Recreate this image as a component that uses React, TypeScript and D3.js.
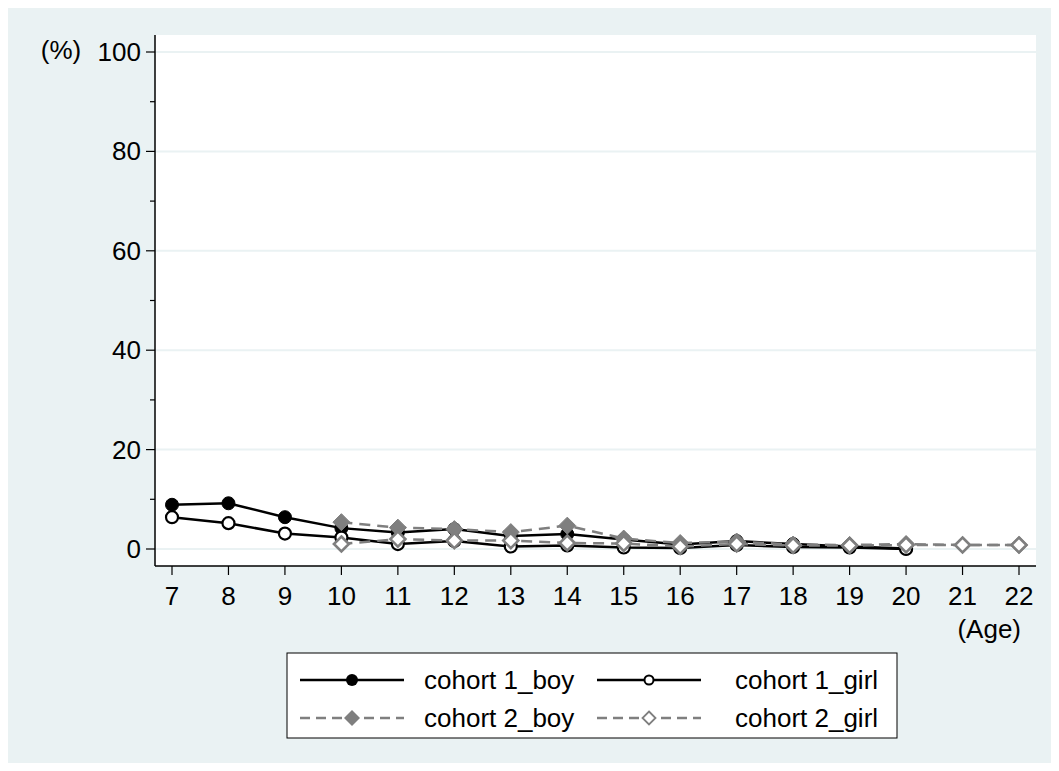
import React from "react";
import * as d3 from "d3";

const ages1 = [7, 8, 9, 10, 11, 12, 13, 14, 15, 16, 17, 18, 19, 20];
const cohort1Boy = [8.9, 9.2, 6.4, 4.2, 3.3, 4.0, 2.6, 3.0, 1.9, 0.9, 1.6, 1.0, 0.5, 0.1];
const cohort1Girl = [6.4, 5.2, 3.1, 2.3, 1.0, 1.6, 0.5, 0.7, 0.3, 0.2, 0.8, 0.4, 0.3, 0.0];
const ages2 = [10, 11, 12, 13, 14, 15, 16, 17, 18, 19, 20, 21, 22];
const cohort2Boy = [5.4, 4.3, 4.0, 3.4, 4.7, 2.1, 1.2, 1.5, 0.9, 0.8, 1.0, 0.8, 0.8];
const cohort2Girl = [1.0, 2.0, 1.7, 1.7, 1.2, 1.1, 0.5, 1.0, 0.7, 0.7, 0.8, 0.8, 0.8];
const xTicks = [7, 8, 9, 10, 11, 12, 13, 14, 15, 16, 17, 18, 19, 20, 21, 22];
const yTicks = [0, 20, 40, 60, 80, 100];
const yMinorTicks = [10, 30, 50, 70, 90];
const seriesNames = ["cohort 1_boy", "cohort 1_girl", "cohort 2_boy", "cohort 2_girl"];

const FONT = "'Liberation Sans', Arial, sans-serif";
const BG = "#eaf2f3";
const GRAY = "#7f7f7f";
const FS = 26;

type Pt = [number, number];

function Marker({ kind, x, y }: { kind: number; x: number; y: number }) {
  if (kind === 0) return <circle cx={x} cy={y} r={6.5} fill="#000" stroke="#000" strokeWidth={1} />;
  if (kind === 1) return <circle cx={x} cy={y} r={6} fill="#fff" stroke="#000" strokeWidth={2.2} />;
  const s = 8.5;
  const d = `M${x},${y - s}L${x + s},${y}L${x},${y + s}L${x - s},${y}Z`;
  if (kind === 2) return <path d={d} fill={GRAY} stroke={GRAY} strokeWidth={1} />;
  const s2 = 7.5;
  const d2 = `M${x},${y - s2}L${x + s2},${y}L${x},${y + s2}L${x - s2},${y}Z`;
  return <path d={d2} fill="#fff" stroke={GRAY} strokeWidth={2.6} />;
}

export default function App() {
  const left = 155, right = 1036, top = 35, bottom = 566;
  const x = d3.scaleLinear().domain([7, 22]).range([172, 1019]);
  const y = d3.scaleLinear().domain([0, 100]).range([549, 52]);
  const line = d3.line<Pt>().x((d) => x(d[0])).y((d) => y(d[1]));

  const series = [
    { pts: ages1.map((a, i) => [a, cohort1Boy[i]] as Pt), color: "#000", dash: undefined, kind: 0 },
    { pts: ages1.map((a, i) => [a, cohort1Girl[i]] as Pt), color: "#000", dash: undefined, kind: 1 },
    { pts: ages2.map((a, i) => [a, cohort2Boy[i]] as Pt), color: GRAY, dash: "11 7", kind: 2 },
    { pts: ages2.map((a, i) => [a, cohort2Girl[i]] as Pt), color: GRAY, dash: "11 7", kind: 3 },
  ];

  const legendPos = [
    { lx: 300, tx: 424, y: 680 },
    { lx: 597, tx: 735, y: 680 },
    { lx: 300, tx: 424, y: 718 },
    { lx: 597, tx: 735, y: 718 },
  ];

  return (
    <svg width={1059} height={771} style={{ position: "absolute", left: 0, top: 0 }} fontFamily={FONT}>
      <rect x={8} y={8} width={1043} height={755} fill={BG} />
      <rect x={left} y={top} width={right - left} height={bottom - top} fill="#fff" />
      {yTicks.map((t) => (
        <line key={"g" + t} x1={left} x2={right} y1={y(t)} y2={y(t)} stroke={BG} strokeWidth={2} />
      ))}
      <line x1={left} x2={left} y1={top} y2={bottom} stroke="#000" strokeWidth={1.5} />
      <line x1={left} x2={right} y1={bottom} y2={bottom} stroke="#000" strokeWidth={1.5} />
      {yTicks.map((t) => (
        <g key={"y" + t}>
          <line x1={left - 9} x2={left} y1={y(t)} y2={y(t)} stroke="#000" strokeWidth={1.2} />
          <text x={left - 14} y={y(t) + 9} textAnchor="end" fontSize={FS}>{t}</text>
        </g>
      ))}
      {yMinorTicks.map((t) => (
        <line key={"m" + t} x1={left - 5} x2={left} y1={y(t)} y2={y(t)} stroke="#000" strokeWidth={1.2} />
      ))}
      {xTicks.map((t) => (
        <g key={"x" + t}>
          <line x1={x(t)} x2={x(t)} y1={bottom} y2={bottom + 9} stroke="#000" strokeWidth={1.2} />
          <text x={x(t)} y={605} textAnchor="middle" fontSize={FS}>{t}</text>
        </g>
      ))}
      <text x={61} y={59} textAnchor="middle" fontSize={FS}>(%)</text>
      <text x={1021} y={638} textAnchor="end" fontSize={FS}>(Age)</text>
      {series.map((s, i) => (
        <path key={"l" + i} d={line(s.pts) || ""} fill="none" stroke={s.color} strokeWidth={2.5} strokeDasharray={s.dash} />
      ))}
      {series.map((s, i) => (
        <g key={"p" + i}>
          {s.pts.map((p, j) => (
            <Marker key={j} kind={s.kind} x={x(p[0])} y={y(p[1])} />
          ))}
        </g>
      ))}
      <rect x={287} y={653} width={610} height={85} fill="#fff" stroke="#000" strokeWidth={1} />
      {legendPos.map((p, i) => {
        const s = series[i];
        return (
          <g key={"lg" + i}>
            <line x1={p.lx} x2={p.lx + 104} y1={p.y} y2={p.y} stroke={s.color} strokeWidth={2.5} strokeDasharray={s.dash ? "10 6" : undefined} />
            {i === 0 && <circle cx={p.lx + 52} cy={p.y} r={6} fill="#000" />}
            {i === 1 && <circle cx={p.lx + 52} cy={p.y} r={4.5} fill="#fff" stroke="#000" strokeWidth={2} />}
            {i === 2 && <path d={`M${p.lx + 52},${p.y - 8}L${p.lx + 60},${p.y}L${p.lx + 52},${p.y + 8}L${p.lx + 44},${p.y}Z`} fill={GRAY} />}
            {i === 3 && <path d={`M${p.lx + 52},${p.y - 6.5}L${p.lx + 58.5},${p.y}L${p.lx + 52},${p.y + 6.5}L${p.lx + 45.5},${p.y}Z`} fill="#fff" stroke={GRAY} strokeWidth={1.8} />}
            <text x={p.tx} y={p.y + 9} fontSize={FS}>{seriesNames[i]}</text>
          </g>
        );
      })}
    </svg>
  );
}
